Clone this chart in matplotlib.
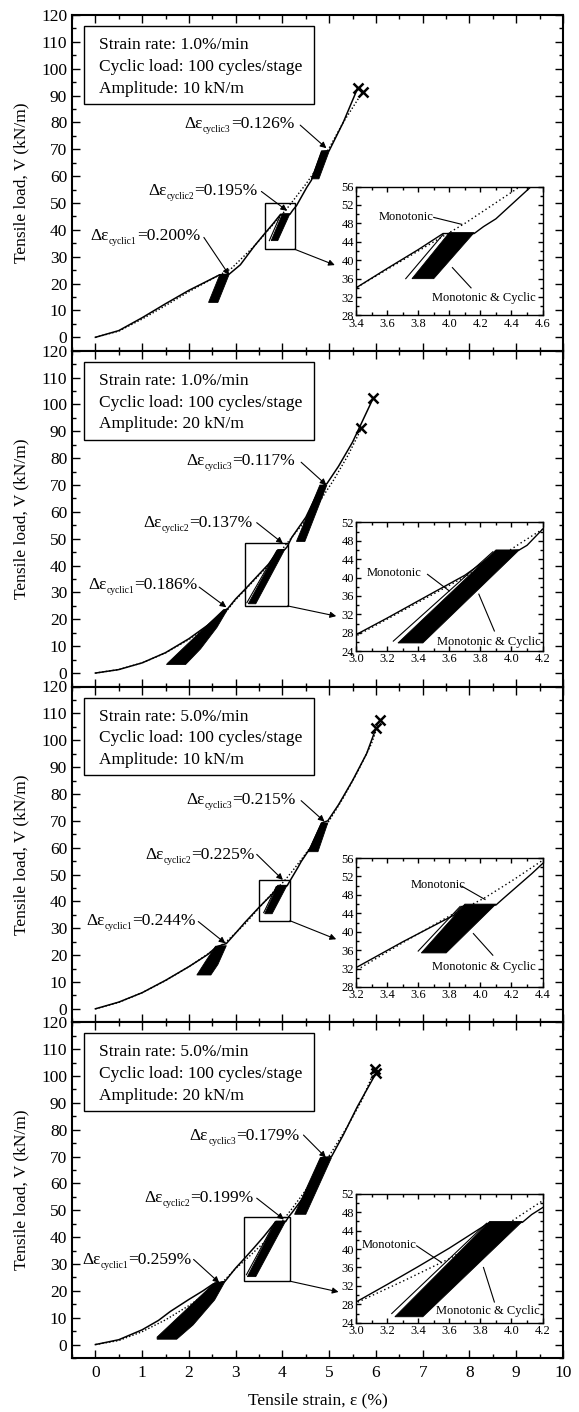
import matplotlib
matplotlib.use('Agg')
import matplotlib.pyplot as plt
from matplotlib.patches import Rectangle, Polygon
from matplotlib.ticker import MultipleLocator, FormatStrFormatter

plt.rcParams['font.family'] = ['Liberation Serif', 'DejaVu Serif']

# ---------------- data ----------------
STRAIN_RATES = ["1.0", "1.0", "5.0", "5.0"]
AMPLITUDES = ["10", "20", "10", "20"]
DELTA_EPS = [["0.200", "0.195", "0.126"],
             ["0.186", "0.137", "0.117"],
             ["0.244", "0.225", "0.215"],
             ["0.259", "0.199", "0.179"]]

# monotonic test (dotted)
MONO_X = [
    [0, 0.5, 1.0, 1.5, 2.0, 2.5, 2.9, 3.4, 3.6, 3.8, 4.0, 4.1, 4.3, 4.5, 4.7, 5.0, 5.3, 5.72],
    [0, 0.5, 1.0, 1.5, 2.0, 2.5, 2.8, 3.0, 3.3, 3.6, 3.9, 4.05, 4.2, 4.5, 4.8, 5.1, 5.4, 5.69],
    [0, 0.5, 1.0, 1.5, 2.0, 2.5, 2.8, 3.2, 3.5, 3.8, 4.03, 4.2, 4.4, 4.7, 5.0, 5.3, 5.6, 5.9, 6.08],
    [0, 0.5, 1.0, 1.5, 2.0, 2.5, 2.75, 3.0, 3.3, 3.6, 3.9, 4.2, 4.5, 4.8, 5.1, 5.4, 5.7, 5.98],
]
MONO_Y = [
    [0, 2.3, 6.8, 11.8, 17.0, 21.8, 25.5, 34.0, 38.0, 42.0, 46.0, 48.0, 52.5, 57.0, 62.0, 70.5, 80.0, 91.5],
    [0, 1.3, 3.8, 7.5, 12.5, 18.5, 23.0, 27.3, 32.8, 38.3, 44.0, 47.3, 50.5, 57.0, 64.0, 72.0, 81.0, 91.1],
    [0, 2.4, 6.0, 10.5, 15.7, 21.5, 25.0, 31.6, 37.6, 43.4, 47.4, 51.0, 55.5, 62.5, 70.0, 78.5, 88.0, 98.5, 107.5],
    [0, 1.5, 4.8, 9.2, 14.5, 20.5, 23.8, 28.3, 33.0, 37.9, 43.8, 50.5, 57.5, 65.0, 73.0, 81.5, 91.0, 102.5],
]

# cyclic test envelope (solid)
CYC_X = [
    [0, 0.5, 1.0, 1.5, 2.0, 2.4, 2.66, 2.86, 3.1, 3.4, 3.6, 3.8, 3.96, 4.16, 4.22, 4.3, 4.52, 4.62, 4.84, 5.0, 5.3, 5.61],
    [0, 0.5, 1.0, 1.5, 2.0, 2.4, 2.78, 2.83, 3.0, 3.2, 3.5, 3.7, 3.91, 4.05, 4.1, 4.2, 4.5, 4.82, 4.95, 5.2, 5.5, 5.94],
    [0, 0.5, 1.0, 1.5, 2.0, 2.4, 2.59, 2.8, 3.0, 3.2, 3.5, 3.83, 3.88, 4.1, 4.15, 4.33, 4.4, 4.6, 4.84, 4.97, 5.2, 5.5, 5.8, 6.0],
    [0, 0.5, 1.0, 1.35, 1.6, 2.0, 2.3, 2.52, 2.77, 3.0, 3.2, 3.4, 3.6, 3.85, 4.07, 4.13, 4.2, 4.5, 4.83, 5.05, 5.3, 5.6, 6.0],
]
CYC_Y = [
    [0, 2.5, 7.3, 12.5, 17.5, 21.0, 23.3, 23.5, 27.0, 34.0, 38.2, 42.3, 45.8, 45.8, 47.3, 49.0, 55.8, 58.5, 69.3, 69.5, 80.0, 92.8],
    [0, 1.3, 3.8, 7.6, 12.8, 17.8, 23.5, 24.0, 27.6, 31.2, 36.8, 40.5, 45.6, 46.0, 47.0, 50.5, 58.0, 69.5, 70.5, 77.0, 86.0, 102.3],
    [0, 2.5, 6.0, 10.6, 15.7, 20.2, 23.1, 24.3, 28.2, 32.2, 37.8, 43.6, 45.5, 45.8, 47.3, 52.6, 54.8, 60.0, 69.2, 70.0, 76.0, 85.0, 95.0, 104.4],
    [0, 1.8, 5.5, 9.0, 12.3, 16.8, 20.0, 22.6, 23.5, 28.5, 32.3, 36.2, 40.2, 45.6, 45.8, 47.5, 49.0, 56.0, 69.5, 70.0, 78.0, 88.5, 101.0],
]

# filled cyclic loop regions (stage 1, 2, 3) as outline vertices (x, y)
BLOBS = [
    [[(2.42, 13.0), (2.62, 13.0), (2.86, 23.4), (2.66, 23.3)],
     [(3.76, 36.0), (3.90, 36.0), (4.16, 46.0), (4.00, 46.0)],
     [(4.62, 59.0), (4.78, 59.0), (5.00, 69.3), (4.84, 69.3)]],
    [[(1.52, 3.2), (1.93, 3.2), (2.25, 9.0), (2.60, 17.0), (2.83, 23.8), (2.74, 23.6), (1.55, 3.8)],
     [(3.27, 25.8), (3.43, 25.8), (4.05, 46.0), (3.90, 46.0)],
     [(4.30, 49.0), (4.48, 49.0), (4.95, 70.0), (4.80, 70.0)]],
    [[(2.17, 12.6), (2.47, 12.6), (2.62, 16.5), (2.80, 23.5), (2.57, 23.3), (2.35, 17.5)],
     [(3.62, 35.4), (3.78, 35.4), (4.10, 46.0), (3.90, 46.0)],
     [(4.55, 58.5), (4.76, 58.5), (4.97, 69.2), (4.83, 69.2)]],
    [[(1.32, 2.0), (1.74, 2.0), (2.09, 7.3), (2.55, 16.6), (2.77, 23.4), (2.55, 23.0), (1.32, 2.8)],
     [(3.25, 25.3), (3.43, 25.3), (4.07, 46.0), (3.86, 46.0)],
     [(4.26, 48.5), (4.50, 48.5), (5.05, 69.6), (4.81, 69.6)]],
]
# first unloading/reloading lines of stage 2 (left of the filled region)
FIRST_LOOP_X = [[3.72, 3.96], [3.24, 3.88], [3.60, 3.87], [3.23, 3.84]]
FIRST_LOOP_Y = [[36.0, 45.6], [26.2, 45.6], [35.8, 45.5], [26.0, 45.6]]

# failure marks (x, y) for both tests
FAIL_X = [[5.61, 5.72], [5.94, 5.69], [6.00, 6.08], [6.00, 5.99]]
FAIL_Y = [[92.8, 91.5], [102.3, 91.1], [104.4, 107.5], [101.0, 102.5]]

# annotation: text start (x), text center (y), arrow start, arrow tip
ANN_TEXT_X = [[-0.10, 1.13, 1.91], [-0.15, 1.02, 1.95], [-0.19, 1.06, 1.95], [-0.28, 1.05, 2.02]]
ANN_TEXT_Y = [[38.1, 55.1, 79.9], [33.4, 56.4, 79.3], [33.1, 57.9, 78.4], [31.9, 54.9, 78.3]]
ANN_FROM = [[(2.32, 37.2), (3.55, 54.3), (4.38, 79.0)],
            [(2.22, 32.0), (3.45, 56.0), (4.40, 78.5)],
            [(2.20, 32.5), (3.45, 57.5), (4.40, 77.5)],
            [(2.10, 31.7), (3.45, 54.5), (4.45, 78.0)]]
ANN_TIP = [[(2.86, 23.2), (4.10, 47.1), (4.94, 70.4)],
           [(2.80, 24.5), (4.01, 48.3), (4.94, 70.0)],
           [(2.78, 24.4), (4.01, 48.0), (4.90, 69.7)],
           [(2.65, 23.0), (4.03, 46.6), (4.93, 69.6)]]

# zoom box (x0, y0, x1, y1) and arrow end pointing to the inset
ZOOM_BOX = [(3.62, 32.8, 4.26, 50.0), (3.19, 25.0, 4.11, 48.3),
            (3.50, 32.8, 4.16, 48.0), (3.18, 23.6, 4.16, 47.5)]
ZOOM_ARROW_END = [(5.12, 26.9), (5.15, 21.2), (5.15, 25.9), (5.20, 19.6)]

# insets
INSET_XLIM = [(3.4, 4.6), (3.0, 4.2), (3.2, 4.4), (3.0, 4.2)]
INSET_YLIM = [(28, 56), (24, 52), (28, 56), (24, 52)]
MONO_LABEL_XY = [(3.72, 49.4), (3.245, 41.1), (3.73, 50.2), (3.21, 40.9)]
MONO_LEADER = [((3.90, 49.3), (4.08, 47.8)), ((3.46, 40.7), (3.60, 37.1)),
               ((3.88, 49.9), (4.03, 47.0)), ((3.39, 40.7), (3.55, 37.1))]
MC_LABEL_XY = [(4.22, 31.8), (3.855, 26.1), (4.02, 32.3), (3.85, 26.5)]
MC_LEADER = [((4.14, 34.0), (4.02, 38.4)), ((3.89, 28.4), (3.79, 36.4)),
             ((4.08, 34.9), (3.955, 39.6)), ((3.89, 28.5), (3.82, 36.0))]

X_TICKS = list(range(0, 11))
Y_TICKS = list(range(0, 121, 10))

# ---------------- layout ----------------
W, H = 579, 1412
L_PX, R_PX, TOP_PX, PH_PX = 72, 563, 15, 335.75
FS = 12.5
FS_IN = 9

fig = plt.figure(figsize=(W / 100, H / 100), dpi=100)

arrow_kw = dict(arrowstyle='-|>', color='k', lw=0.8, mutation_scale=9,
                shrinkA=0, shrinkB=0)


def delta_label(ax, x, yc, sub, val):
    t1 = ax.text(x, yc - 2.0, '\u0394\u03b5', fontsize=FS, va='baseline', ha='left')
    t2 = ax.annotate(sub, xy=(1, 0.0), xycoords=t1, fontsize=FS * 0.55,
                     va='baseline', ha='left')
    ax.annotate('=' + val + '%', xy=(1, 0), xycoords=(t2, t1), fontsize=FS,
                va='bottom', ha='left')


def style_ticks(a, major, minor, fs):
    a.tick_params(which='both', direction='in', top=True, right=True,
                  labelsize=fs, width=1)
    a.tick_params(which='major', length=major)
    a.tick_params(which='minor', length=minor)


for k in range(4):
    top = TOP_PX + k * PH_PX
    ax = fig.add_axes([L_PX / W, 1 - (top + PH_PX) / H, (R_PX - L_PX) / W, PH_PX / H])
    ax.set_xlim(-0.5, 10)
    ax.set_ylim(-5, 120)
    ax.set_xticks(X_TICKS)
    ax.set_yticks(Y_TICKS)
    ax.xaxis.set_minor_locator(MultipleLocator(0.5))
    ax.yaxis.set_minor_locator(MultipleLocator(5))
    style_ticks(ax, 6, 3, FS)
    ax.tick_params(axis='x', pad=5)
    for s in ax.spines.values():
        s.set_linewidth(1.5)
    if k < 3:
        ax.tick_params(labelbottom=False)
    else:
        ax.set_xlabel('Tensile strain, \u03b5 (%)', fontsize=FS)
        ax.xaxis.set_label_coords(0.5, -0.103)
    ax.set_ylabel('Tensile load, V (kN/m)', fontsize=FS)
    ax.yaxis.set_label_coords(-0.087, 0.5)

    # curves
    ax.plot(MONO_X[k], MONO_Y[k], color='k', lw=1.0, ls=(0, (1, 1.5)))
    ax.plot(CYC_X[k], CYC_Y[k], color='k', lw=1.1)
    for b in BLOBS[k]:
        ax.add_patch(Polygon(b, closed=True, facecolor='k', edgecolor='k', lw=0.6))
    ax.plot(FIRST_LOOP_X[k], FIRST_LOOP_Y[k], color='k', lw=0.8)
    ax.plot(FAIL_X[k], FAIL_Y[k], ls='none', marker='x', ms=7, mew=1.8, color='k')

    # info box
    ax.add_patch(Rectangle((0.025, 0.735), 0.468, 0.232, transform=ax.transAxes,
                           fill=False, lw=1.0, edgecolor='k'))
    lines = ['Strain rate: %s%%/min' % STRAIN_RATES[k],
             'Cyclic load: 100 cycles/stage',
             'Amplitude: %s kN/m' % AMPLITUDES[k]]
    for line, yb in zip(lines, [0.898, 0.8335, 0.769]):
        ax.text(0.0556, yb, line, transform=ax.transAxes, fontsize=FS, va='baseline')

    # delta-epsilon annotations
    for j in range(3):
        delta_label(ax, ANN_TEXT_X[k][j], ANN_TEXT_Y[k][j], 'cyclic%d' % (j + 1), DELTA_EPS[k][j])
        ax.annotate('', xy=ANN_TIP[k][j], xytext=ANN_FROM[k][j], arrowprops=arrow_kw)

    # zoom box + arrow
    x0, y0, x1, y1 = ZOOM_BOX[k]
    ax.add_patch(Rectangle((x0, y0), x1 - x0, y1 - y0, fill=False, lw=1.0, edgecolor='k'))
    ax.annotate('', xy=ZOOM_ARROW_END[k], xytext=(x1, y0), arrowprops=arrow_kw)

    # inset
    ins = ax.inset_axes([0.5784, 0.105, 0.380, 0.384])
    ins.set_xlim(*INSET_XLIM[k])
    ins.set_ylim(*INSET_YLIM[k])
    ins.xaxis.set_major_locator(MultipleLocator(0.2))
    ins.xaxis.set_minor_locator(MultipleLocator(0.1))
    ins.yaxis.set_major_locator(MultipleLocator(4))
    ins.yaxis.set_minor_locator(MultipleLocator(2))
    ins.xaxis.set_major_formatter(FormatStrFormatter('%.1f'))
    style_ticks(ins, 3.5, 2, FS_IN)
    ins.tick_params(pad=1.5)
    for s in ins.spines.values():
        s.set_linewidth(1.0)
    ins.plot(MONO_X[k], MONO_Y[k], color='k', lw=1.0, ls=(0, (1, 2)))
    ins.plot(CYC_X[k], CYC_Y[k], color='k', lw=1.0)
    ins.add_patch(Polygon(BLOBS[k][1], closed=True, facecolor='k', edgecolor='k', lw=0.6))
    ins.plot(FIRST_LOOP_X[k], FIRST_LOOP_Y[k], color='k', lw=0.8)
    ins.text(*MONO_LABEL_XY[k], 'Monotonic', fontsize=FS_IN, ha='center', va='center')
    (a, b) = MONO_LEADER[k]
    ins.plot([a[0], b[0]], [a[1], b[1]], color='k', lw=0.8)
    ins.text(*MC_LABEL_XY[k], 'Monotonic & Cyclic', fontsize=FS_IN, ha='center', va='center')
    (a, b) = MC_LEADER[k]
    ins.plot([a[0], b[0]], [a[1], b[1]], color='k', lw=0.8)

fig.savefig('out.png', dpi=100)
